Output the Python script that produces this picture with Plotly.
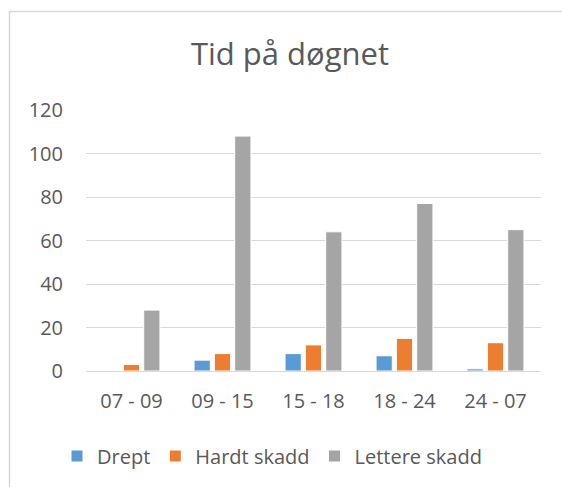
import plotly.graph_objects as go

categories = ["07 - 09", "09 - 15", "15 - 18", "18 - 24", "24 - 07"]
drept = [0, 5, 8, 7, 1]
hardt_skadd = [3, 8, 12, 15, 13]
lettere_skadd = [28, 108, 64, 77, 65]
y_ticks = [0, 20, 40, 60, 80, 100, 120]

FONT = "Open Sans, sans-serif"
TXT = "#595959"

fig = go.Figure()
for name, vals, col in [("Drept", drept, "#5B9BD5"),
                        ("Hardt skadd", hardt_skadd, "#ED7D31"),
                        ("Lettere skadd", lettere_skadd, "#A5A5A5")]:
    fig.add_bar(x=categories, y=vals, name=name, marker_color=col,
                marker_line_color="white", marker_line_width=1)

fig.update_layout(
    width=562, height=487,
    margin=dict(l=86, r=21, t=110, b=116),
    paper_bgcolor="white", plot_bgcolor="white",
    font=dict(family=FONT, color=TXT, size=20),
    title=dict(text="Tid på døgnet", x=290 / 562, xref="container", xanchor="center",
               y=(487 - 54) / 487, yref="container", yanchor="middle",
               font=dict(size=31, color=TXT, family=FONT)),
    barmode="group", bargap=0.33, bargroupgap=0.2,
    showlegend=True,
    legend=dict(orientation="h", xanchor="center", x=(272 - 86) / 455,
                yanchor="middle", y=(371 - 456) / 261,
                font=dict(size=20, color=TXT), traceorder="normal",
                itemwidth=30),
    shapes=[dict(type="path", xref="paper", yref="paper",
                 path="M {x0},{y0} L {x0},{y1} L {x1},{y1}".format(
                     x0=(9.5 - 86) / 455, y0=-0.6, y1=(371 - 11.5) / 261, x1=1.1),
                 line=dict(color="#D9D9D9", width=1.5),
                 layer="below")],
)
fig.update_yaxes(range=[0, 120], tickvals=y_ticks, showgrid=True,
                 gridcolor="#D9D9D9", gridwidth=1, zeroline=False,
                 showline=False, ticks="", ticklabelstandoff=22,
                 tickfont=dict(size=20, color=TXT))
fig.update_xaxes(showline=True, linecolor="#D9D9D9", linewidth=1, ticks="",
                 ticklabelstandoff=12, tickfont=dict(size=20, color=TXT))

fig.write_html("out.html", config={"displayModeBar": False},
               post_script="document.body.style.margin='0px';document.body.style.overflow='hidden';")
